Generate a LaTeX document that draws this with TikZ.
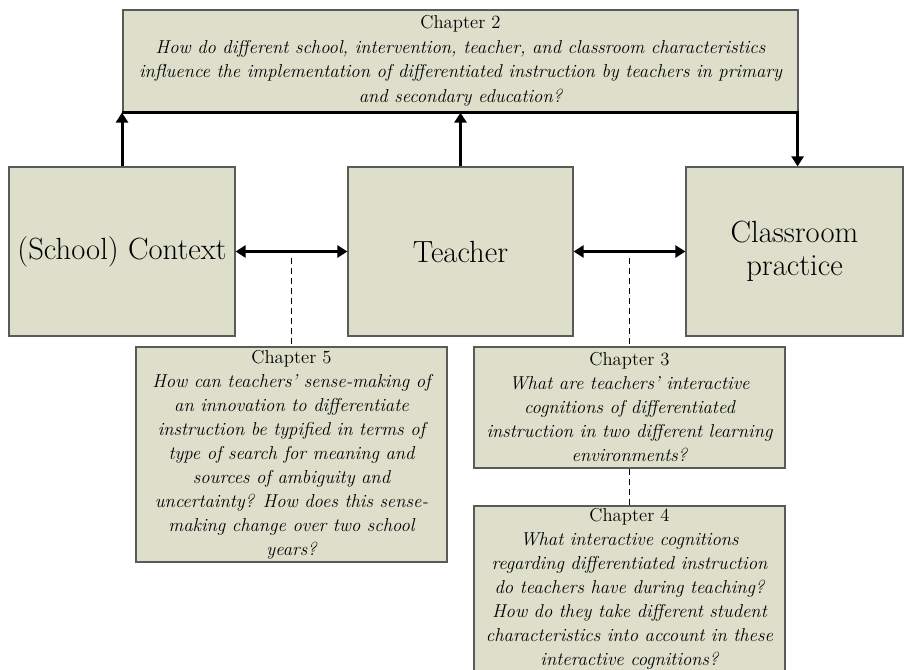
\documentclass[tikz,border=0pt]{standalone}
\usetikzlibrary{arrows.meta,calc}
\definecolor{boxfill}{HTML}{DDDFCB}
\definecolor{boxline}{HTML}{5A5A5A}
\begin{document}
\begin{tikzpicture}[x=0.75pt,y=-0.75pt,
  box/.style={draw=boxline, line width=0.9pt, fill=boxfill, inner sep=0pt, align=center},
  bigtext/.style={font=\fontsize{23}{25}\selectfont},
  qtext/.style={font=\fontsize{14}{18}\selectfont},
  thickarrow/.style={line width=2.25pt, -{Triangle[length=7.5pt,width=9pt]}},
  dbl/.style={line width=2.25pt, {Triangle[length=7.5pt,width=9pt]}-{Triangle[length=7.5pt,width=9pt]}},
  dashline/.style={line width=1.1pt, dash pattern=on 4.5pt off 3pt}]
\useasboundingbox (0,0) rectangle (904,670);
\fill[white] (0,0) rectangle (904,670);

\node[box, minimum width=506.25pt, minimum height=76.5pt, font=\fontsize{14}{18.4}\selectfont] (ch2) at (460.5,61)
  {Chapter 2\\ \itshape How do different school, intervention, teacher, and classroom characteristics\\ \itshape influence the implementation of differentiated instruction by teachers in primary\\ \itshape and secondary education?};

\node[box, bigtext, minimum width=169.5pt, minimum height=126.75pt] (ctx) at (122,251.5) {(School) Context};
\node[box, bigtext, minimum width=168.75pt, minimum height=126.75pt] (teach) at (460.5,251.5) {Teacher};
\node[box, bigtext, minimum width=162.75pt, minimum height=126.75pt] (cls) at (794.5,251.5) {Classroom\\practice};

\node[box, qtext, minimum width=233.25pt, minimum height=161.25pt] (ch5) at (291.5,454.5)
  {Chapter 5\\ \itshape How can teachers' sense-making of\\ \itshape an innovation to differentiate\\ \itshape instruction be typified in terms of\\ \itshape type of search for meaning and\\ \itshape sources of ambiguity and\\ \itshape uncertainty? How does this sense-\\ \itshape making change over two school\\ \itshape years?};

\node[box, qtext, minimum width=233.25pt, minimum height=90.75pt] (ch3) at (629.5,407.5)
  {Chapter 3\\ \itshape What are teachers' interactive\\ \itshape cognitions of differentiated\\ \itshape instruction in two different learning\\ \itshape environments?};

\node[box, qtext, minimum width=233.25pt, minimum height=124.5pt] (ch4) at (629.5,589)
  {Chapter 4\\ \itshape What interactive cognitions\\ \itshape regarding differentiated instruction\\ \itshape do teachers have during teaching?\\ \itshape How do they take different student\\ \itshape characteristics into account in these\\ \itshape interactive cognitions?};

% thick bottom line of chapter 2 and arrows
\draw[line width=2.25pt] (ctx.north |- ch2.south) -- (ch2.south east);
\draw[thickarrow] (ctx.north) -- (ctx.north |- ch2.south);
\draw[thickarrow] (teach.north) -- (teach.north |- ch2.south);
\coordinate (dn) at ([xshift=-0.75pt]ch2.south east);
\draw[thickarrow] (dn) -- (dn |- cls.north);

\draw[dbl] (ctx.east) -- (teach.west);
\draw[dbl] (teach.east) -- (cls.west);

\coordinate (d1) at ([yshift=-5pt]ch5.north |- ctx.east);
\coordinate (d2) at ([yshift=-5pt]ch3.north |- teach.east);
\draw[dashline] (d1) -- (ch5.north);
\draw[dashline] (d2) -- (ch3.north);
\draw[dashline] (ch3.south) -- (ch4.north);
\end{tikzpicture}
\end{document}
